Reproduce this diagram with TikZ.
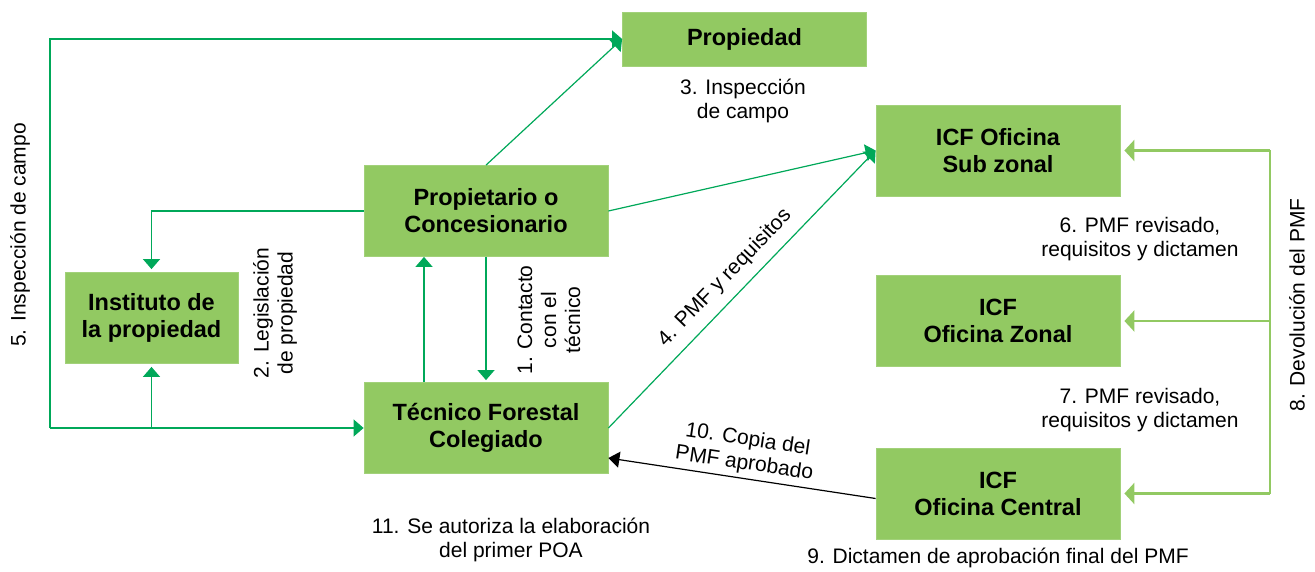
\documentclass[tikz,border=0pt]{standalone}
\usepackage{fontspec}
\setmainfont{Liberation Sans}
\usetikzlibrary{arrows.meta}
\definecolor{boxgreen}{RGB}{146,201,98}
\definecolor{linegreen}{RGB}{0,168,89}
\tikzset{
  box/.style={fill=boxgreen, draw=boxgreen!85!white, line width=0.8pt, minimum width=244pt, minimum height=91pt, inner sep=0pt, align=center, font=\bfseries\fontsize{23.5}{27}\selectfont},
  lab/.style={align=center, inner sep=0pt, font=\fontsize{21}{24}\selectfont},
  arr/.style={draw=linegreen, line width=1.2pt, -{Triangle[width=17pt,length=10pt]}},
  fbline/.style={draw=boxgreen, line width=2.6pt},
  fb/.style={draw=boxgreen, line width=2.6pt, shorten >=4pt, -{Triangle[width=21pt,length=10pt]}},
  blk/.style={draw=black, line width=1.2pt, -{Triangle[width=16pt,length=11pt]}}
}
\begin{document}
\begin{tikzpicture}[x=1pt,y=-1pt]
\useasboundingbox (0,0) rectangle (1315,572);
% boxes
\node[box, minimum height=54pt] (propiedad) at (744.5,39) {Propiedad};
\node[box] (prop) at (486,211) {Propietario o\\Concesionario};
\node[box, minimum width=173pt] (inst) at (151.5,318) {Instituto de\\la propiedad};
\node[box] (tec) at (486,428) {Técnico Forestal\\Colegiado};
\node[box] (sub) at (998,150.5) {ICF Oficina\\Sub zonal};
\node[box] (zon) at (998,321) {ICF\\Oficina Zonal};
\node[box] (cen) at (998,493.5) {ICF\\Oficina Central};
% coordinates
\coordinate (c5) at (50,428);
\coordinate (fbx) at (1270,0);
% green connectors
\draw[arr] (c5) |- (propiedad.west);
\draw[arr] (c5) -- (tec.west);
\draw[arr, shorten >=3pt] (inst.south |- tec.west) -- (inst.south);
\draw[arr, shorten >=3pt] (prop.west) -| (inst.north);
\draw[arr, shorten >=2pt] (prop.south) -- (tec.north);
\draw[arr] ([xshift=-62pt]tec.north) -- ([xshift=-62pt]prop.south);
\draw[arr] (prop.north) -- (propiedad.west);
\draw[arr] (prop.east) -- (sub.west);
\draw[arr] (tec.east) -- (sub.west);
% feedback
\draw[fbline] (sub.east -| fbx) -- (cen.east -| fbx);
\draw[fb] (sub.east -| fbx) -- (sub.east);
\draw[fb] (zon.east -| fbx) -- (zon.east);
\draw[fb] (cen.east -| fbx) -- (cen.east);
% black
\draw[blk] ([yshift=-5pt]cen.west) -- ([yshift=-30pt]tec.east);
% labels
\node[lab] (l3) at (743,101) {3. Inspección\\de campo};
\node[lab] (l6) at (1140,239) {6. PMF revisado,\\requisitos y dictamen};
\node[lab] (l7) at (1140,410) {7. PMF revisado,\\requisitos y dictamen};
\node[lab] (l9) at (998,558) {9. Dictamen de aprobación final del PMF};
\node[lab] (l11) at (511,540) {11. Se autoriza la elaboración\\del primer POA};
\node[lab, rotate=-8.5] (l10) at (746,452) {10. Copia del\\PMF aprobado};
\node[lab, rotate=46] (l4) at (725,278) {4. PMF y requisitos};
\node[lab, rotate=90] (l1) at (549,320) {1. Contacto\\con el\\técnico};
\node[lab, rotate=90] (l2) at (275,313) {2. Legislación\\de propiedad};
\node[lab, rotate=90] (l5) at (20,235) {5. Inspección de campo};
\node[lab, rotate=90] (l8) at (1297,305) {8. Devolución del PMF};
\end{tikzpicture}
\end{document}
